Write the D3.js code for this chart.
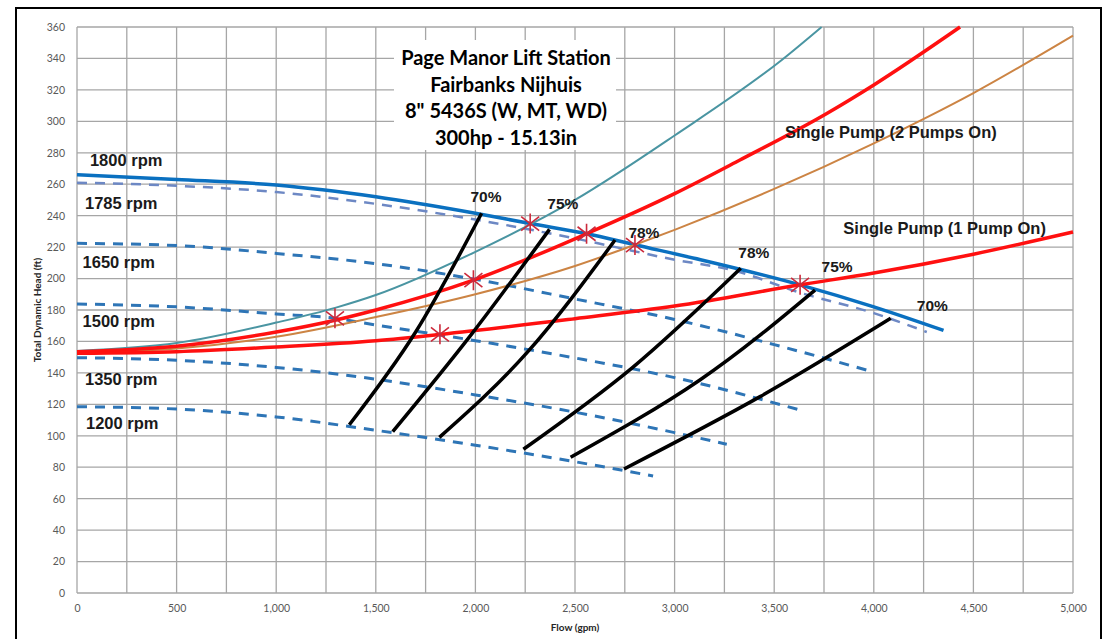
<!DOCTYPE html>
<html>
<head>
<meta charset="utf-8">
<script src="https://cdn.jsdelivr.net/npm/d3@7/dist/d3.min.js"></script>
<style>
  html, body { margin: 0; padding: 0; background: #fff; }
  svg { display: block; }
</style>
</head>
<body>
<svg id="chart" width="1105" height="639"></svg>
<script>
// ---------- DATA ----------
const xTickValues = [0, 500, 1000, 1500, 2000, 2500, 3000, 3500, 4000, 4500, 5000];
const yTickValues = [0, 20, 40, 60, 80, 100, 120, 140, 160, 180, 200, 220, 240, 260, 280, 300, 320, 340, 360];

// pump curves [flow gpm, head ft]
const rpm1800 = [[0,266],[500,263],[1000,259.5],[1500,252],[2000,241.5],[2275,235],[2560,228.5],[2800,221.5],[3130,212],[3630,196],[4000,182],[4350,167]];
const rpm1785 = [[0,261],[500,259],[1000,255],[1500,247.5],[2000,237.5],[2500,225.5],[3000,212],[3300,205],[3630,191],[4000,178],[4266,166]];
const rpm1650 = [[0,222.4],[500,221],[1000,216],[1500,209.5],[2000,199.5],[2500,187],[3000,174],[3500,158],[4000,140.5]];
const rpm1500 = [[0,183.8],[500,182],[1000,177.5],[1295,174.7],[1500,170.5],[2000,160.5],[2500,149.5],[3000,137],[3630,116.4]];
const rpm1350 = [[0,149.7],[500,148],[1000,143.5],[1500,136],[2000,126],[2500,115],[3000,102],[3262,94.6]];
const rpm1200 = [[0,118.5],[500,117],[1000,112],[1500,103.5],[2000,94],[2500,83.5],[2892,74.4]];

// system curves
const systemTeal  = [[0,154],[500,159],[1000,172],[1300,181.5],[1500,189.5],[2000,217],[2500,250],[3000,291],[3538,339],[3738,360]];
const system2Pump = [[0,153.5],[500,157],[1000,166],[1295,173.5],[1500,180],[1990,199],[2558,228.5],[3000,254],[3328,275.4],[3764,305],[3998,323],[4433,360]];
const systemBrown = [[0,153],[500,155.5],[1000,163],[1500,175.5],[2000,190],[2500,208],[2801,221.5],[3000,231],[3500,257],[4000,286],[4500,318],[5000,354.5]];
const system1Pump = [[0,152.5],[500,153.5],[1000,156.5],[1500,160.5],[1822,164.5],[2500,174.5],[3000,182.5],[3630,196],[4000,203.5],[4500,215.5],[5000,229.6]];

// iso-efficiency lines
const eff70a = [[1367,107],[1700,166],[2031,241.5]];
const eff75a = [[1585,102.6],[1980,164.5],[2372,231.3]];
const eff78a = [[1819,99],[2260,153],[2701,224.5]];
const eff78b = [[2241,91.4],[2790,143.5],[3332,206.5]];
const eff75b = [[2478,86.3],[3127,135.5],[3705,192.7]];
const eff70b = [[2746,78.9],[3429,124.9],[4085,174.7]];

// operating points
const operatingPoints = [[1295,174.7],[1822,164.5],[1990,199],[2275,235],[2558,228.5],[2801,221.3],[3630,196]];

// labels
const rpmLabels = [
  {text: "1800 rpm", x: 65,  y: 271.8},
  {text: "1785 rpm", x: 40,  y: 244.5},
  {text: "1650 rpm", x: 28,  y: 206.5},
  {text: "1500 rpm", x: 28,  y: 169.4},
  {text: "1350 rpm", x: 40,  y: 132.3},
  {text: "1200 rpm", x: 45,  y: 104.1}
];
const effLabels = [
  {text: "70%", x: 1975, y: 248.8},
  {text: "75%", x: 2361, y: 244},
  {text: "78%", x: 2768, y: 225.6},
  {text: "78%", x: 3320, y: 212.9},
  {text: "75%", x: 3738, y: 204.4},
  {text: "70%", x: 4216, y: 179.5}
];
const curveLabels = [
  {text: "Single Pump (2 Pumps On)", x: 3554, y: 289.2},
  {text: "Single Pump (1 Pump On)",  x: 3847, y: 228.1}
];
const titleLines = ["Page Manor Lift Station", "Fairbanks Nijhuis", "8\" 5436S (W, MT, WD)", "300hp - 15.13in"];

// ---------- LAYOUT ----------
const svg = d3.select("#chart");
const plot = {left: 77, right: 1073, top: 27, bottom: 593};

const x = d3.scaleLinear().domain([0, 5000]).range([plot.left, plot.right]);
const y = d3.scaleLinear().domain([0, 360]).range([plot.bottom, plot.top]);

// outer frame
svg.append("rect").attr("x", 16).attr("y", 8).attr("width", 1085).attr("height", 640)
  .attr("fill", "#fff").attr("stroke", "#000").attr("stroke-width", 2);

// grid
const gridColor = "#a6a6a6";
svg.append("g").selectAll("line").data(d3.range(0, 5001, 250)).join("line")
  .attr("x1", d => x(d)).attr("x2", d => x(d))
  .attr("y1", plot.top).attr("y2", plot.bottom)
  .attr("stroke", gridColor).attr("stroke-width", 1.3);
svg.append("g").selectAll("line").data(yTickValues).join("line")
  .attr("x1", plot.left).attr("x2", plot.right)
  .attr("y1", d => y(d)).attr("y2", d => y(d))
  .attr("stroke", gridColor).attr("stroke-width", 1.3);

// axes (labels only)
const fmt = d3.format(",");
const xAxis = svg.append("g").attr("transform", `translate(0,${plot.bottom})`)
  .call(d3.axisBottom(x).tickValues(xTickValues).tickFormat(fmt).tickSize(0).tickPadding(12));
const yAxis = svg.append("g").attr("transform", `translate(${plot.left},0)`)
  .call(d3.axisLeft(y).tickValues(yTickValues).tickSize(0).tickPadding(12));
[xAxis, yAxis].forEach(a => {
  a.select(".domain").remove();
  a.selectAll("text").attr("font-family", "Lato, 'Open Sans', sans-serif")
    .attr("font-size", 10.5).attr("fill", "#595959");
});

// axis titles
svg.append("text").text("Flow (gpm)")
  .attr("x", (plot.left + plot.right) / 2).attr("y", 631)
  .attr("text-anchor", "middle").attr("font-family", "Lato, sans-serif")
  .attr("font-weight", "bold").attr("font-size", 10).attr("fill", "#262626");
svg.append("text").text("Total Dynamic Head (ft)")
  .attr("transform", `translate(41,${(plot.top + plot.bottom) / 2}) rotate(-90)`)
  .attr("text-anchor", "middle").attr("font-family", "Lato, sans-serif")
  .attr("font-weight", "bold").attr("font-size", 10).attr("fill", "#262626");

// title box
svg.append("rect").attr("x", 394).attr("y", 40).attr("width", 222).attr("height", 110).attr("fill", "#fff");
svg.append("g").selectAll("text").data(titleLines).join("text")
  .text(d => d)
  .attr("x", 506).attr("y", (d, i) => 65 + i * 26.7)
  .attr("text-anchor", "middle").attr("font-family", "Lato, sans-serif")
  .attr("font-weight", "bold").attr("font-size", 20).attr("fill", "#000");

// line generators
const line = d3.line().x(d => x(d[0])).y(d => y(d[1])).curve(d3.curveMonotoneX);
const lineNat = d3.line().x(d => x(d[0])).y(d => y(d[1])).curve(d3.curveNatural);

function drawLine(data, color, width, dash, gen) {
  svg.append("path").datum(data).attr("d", gen || line)
    .attr("fill", "none").attr("stroke", color).attr("stroke-width", width)
    .attr("stroke-dasharray", dash || null).attr("stroke-linecap", "butt")
    .attr("stroke-linejoin", "round");
}

// dashed speed curves
[rpm1650, rpm1500, rpm1350, rpm1200].forEach(d => drawLine(d, "#2e75b6", 3, "10,8"));
drawLine(rpm1785, "#6d88c4", 2.5, "10,8");
// full speed
drawLine(rpm1800, "#0a70c0", 3.5);
// system curves
drawLine(systemTeal, "#4a95a2", 2);
drawLine(systemBrown, "#cc8444", 2);
drawLine(system2Pump, "#ff1010", 3.5);
drawLine(system1Pump, "#ff1010", 3.5);
// efficiency lines
[eff70a, eff75a, eff78a, eff78b, eff75b, eff70b].forEach(d => drawLine(d, "#000", 3.5, null, lineNat));

// star markers (Excel-style asterisk)
const starPath = "M-9,-7L9,7M-9,7L9,-7M0,-10L0,10";
svg.append("g").selectAll("path").data(operatingPoints).join("path")
  .attr("d", starPath)
  .attr("transform", d => `translate(${x(d[0])},${y(d[1])})`)
  .attr("fill", "none").attr("stroke", "#cc2a3c").attr("stroke-width", 1.6);

// text labels
const labelFont = "'Liberation Sans', Arial, sans-serif";
function drawLabels(data, size) {
  svg.append("g").selectAll("text").data(data).join("text")
    .text(d => d.text)
    .attr("x", d => x(d.x)).attr("y", d => y(d.y))
    .attr("font-family", labelFont).attr("font-weight", "bold")
    .attr("font-size", size).attr("fill", "#1a1a1a");
}
drawLabels(rpmLabels, 16.5);
drawLabels(effLabels, 15.5);
drawLabels(curveLabels, 16.5);
</script>
</body>
</html>
